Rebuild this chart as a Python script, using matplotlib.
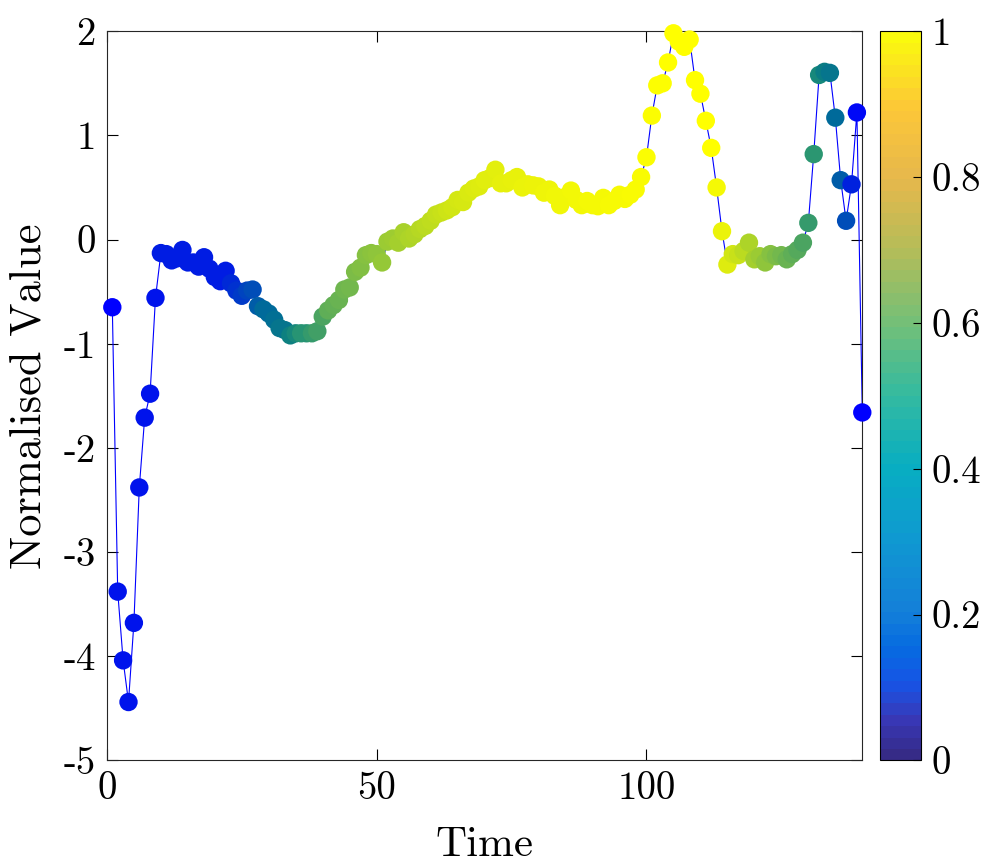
import numpy as np
import matplotlib
matplotlib.use("Agg")
from matplotlib import pyplot as plt
from matplotlib.colors import LinearSegmentedColormap, Normalize
from matplotlib.cm import ScalarMappable

plt.rcParams["font.family"] = ["cmr10", "DejaVu Serif"]
plt.rcParams["axes.unicode_minus"] = False

# === data ===
values = [
    -0.65, -3.38, -4.04, -4.44, -3.68, -2.38, -1.71, -1.48, -0.56, -0.13,
    -0.14, -0.20, -0.18, -0.10, -0.22, -0.22, -0.26, -0.17, -0.28, -0.36,
    -0.40, -0.30, -0.42, -0.49, -0.54, -0.49, -0.48, -0.64, -0.67, -0.71,
    -0.77, -0.85, -0.87, -0.92, -0.90, -0.90, -0.90, -0.90, -0.88, -0.74,
    -0.68, -0.63, -0.58, -0.48, -0.46, -0.31, -0.27, -0.15, -0.13, -0.14,
    -0.22, -0.02, 0.01, -0.03, 0.07, 0.01, 0.05, 0.10, 0.13, 0.18,
    0.24, 0.26, 0.28, 0.31, 0.38, 0.36, 0.45, 0.49, 0.51, 0.57,
    0.59, 0.67, 0.54, 0.54, 0.57, 0.60, 0.50, 0.53, 0.52, 0.51,
    0.45, 0.48, 0.42, 0.33, 0.41, 0.47, 0.38, 0.33, 0.37, 0.33,
    0.32, 0.40, 0.33, 0.37, 0.43, 0.39, 0.43, 0.48, 0.60, 0.79,
    1.19, 1.48, 1.50, 1.70, 1.98, 1.90, 1.85, 1.92, 1.53, 1.40,
    1.14, 0.88, 0.50, 0.08, -0.24, -0.14, -0.15, -0.11, -0.03, -0.19,
    -0.16, -0.22, -0.14, -0.16, -0.15, -0.19, -0.14, -0.10, -0.03, 0.16,
    0.82, 1.58, 1.61, 1.60, 1.17, 0.57, 0.18, 0.53, 1.22, -1.66,
]
time = np.arange(1, len(values) + 1)

# colour value of each point
weights = [
    0.00, 0.05, 0.05, 0.05, 0.05, 0.05, 0.05, 0.05, 0.05, 0.08,
    0.08, 0.08, 0.08, 0.08, 0.08, 0.08, 0.08, 0.08, 0.08, 0.08,
    0.08, 0.08, 0.12, 0.14, 0.16, 0.18, 0.20, 0.25, 0.30, 0.30,
    0.32, 0.35, 0.35, 0.40, 0.42, 0.45, 0.45, 0.48, 0.50, 0.52,
    0.56, 0.57, 0.58, 0.59, 0.60, 0.62, 0.63, 0.64, 0.65, 0.66,
    0.67, 0.68, 0.69, 0.70, 0.71, 0.72, 0.73, 0.74, 0.75, 0.76,
    0.77, 0.78, 0.79, 0.80, 0.81, 0.82, 0.83, 0.84, 0.85, 0.86,
    0.86, 0.87, 0.88, 0.88, 0.89, 0.89, 0.90, 0.90, 0.91, 0.91,
    0.92, 0.92, 0.93, 0.93, 0.93, 0.94, 0.94, 0.94, 0.95, 0.95,
    0.95, 0.95, 0.96, 0.96, 0.96, 0.96, 0.97, 0.97, 0.97, 0.98,
    0.98, 0.99, 0.99, 1.00, 1.00, 1.00, 1.00, 1.00, 1.00, 1.00,
    1.00, 1.00, 0.95, 0.90, 0.85, 0.80, 0.78, 0.75, 0.72, 0.70,
    0.68, 0.66, 0.64, 0.62, 0.60, 0.58, 0.56, 0.54, 0.52, 0.48,
    0.46, 0.42, 0.38, 0.35, 0.30, 0.25, 0.20, 0.10, 0.02, 0.00,
]

# colours used for the markers
marker_cmap = LinearSegmentedColormap.from_list("markers", [
    (0.00, (0.00, 0.00, 1.00)),
    (0.05, (0.00, 0.08, 0.92)),
    (0.10, (0.00, 0.13, 0.87)),
    (0.20, (0.00, 0.30, 0.72)),
    (0.30, (0.00, 0.42, 0.60)),
    (0.40, (0.05, 0.50, 0.50)),
    (0.45, (0.15, 0.58, 0.45)),
    (0.50, (0.25, 0.62, 0.40)),
    (0.60, (0.45, 0.72, 0.30)),
    (0.70, (0.64, 0.81, 0.18)),
    (0.80, (0.82, 0.90, 0.08)),
    (0.90, (0.92, 0.95, 0.04)),
    (1.00, (1.00, 1.00, 0.00)),
])

# parula-like map for the colorbar
parula = LinearSegmentedColormap.from_list("parula", [
    (0.00, (0.21, 0.17, 0.53)),
    (0.05, (0.22, 0.22, 0.72)),
    (0.10, (0.09, 0.33, 0.90)),
    (0.15, (0.02, 0.42, 0.88)),
    (0.20, (0.08, 0.50, 0.85)),
    (0.30, (0.06, 0.60, 0.82)),
    (0.40, (0.03, 0.68, 0.76)),
    (0.50, (0.20, 0.73, 0.63)),
    (0.60, (0.45, 0.75, 0.47)),
    (0.70, (0.70, 0.74, 0.35)),
    (0.80, (0.90, 0.72, 0.30)),
    (0.90, (0.99, 0.78, 0.22)),
    (1.00, (0.98, 0.98, 0.05)),
], N=64)

fig = plt.figure(figsize=(9.9, 8.67), dpi=100)
ax = fig.add_axes([0.108, 0.123, 0.763, 0.841])

ax.plot(time, values, color=(0, 0, 1), linewidth=0.8, zorder=2, clip_on=False)
ax.scatter(time, values, c=[marker_cmap(w) for w in weights], s=175,
           edgecolors="none", zorder=3, clip_on=False)

ax.set_xlim(0, 140)
ax.set_ylim(-5, 2)
ax.set_xticks([0, 50, 100])
ax.set_xticklabels(["0", "50", "100"])
yt = [-5, -4, -3, -2, -1, 0, 1, 2]
ax.set_yticks(yt)
ax.set_yticklabels([str(v) for v in yt])
ax.tick_params(direction="in", top=True, right=True, length=8, width=0.8,
               labelsize=28, pad=8)
for s in ax.spines.values():
    s.set_linewidth(0.8)
    s.set_color("#262626")
ax.set_xlabel("Time", fontsize=31, labelpad=14)
ax.set_ylabel("Normalised Value", fontsize=32, labelpad=10)

cax = fig.add_axes([0.889, 0.123, 0.041, 0.841])
cb = fig.colorbar(ScalarMappable(norm=Normalize(0, 1), cmap=parula), cax=cax)
cb.set_ticks([0, 0.2, 0.4, 0.6, 0.8, 1])
cb.set_ticklabels(["0", "0.2", "0.4", "0.6", "0.8", "1"])
cb.ax.tick_params(direction="in", length=6, width=0.8, labelsize=28, pad=8)
cb.outline.set_linewidth(0.8)

fig.savefig("out.png", dpi=100)
